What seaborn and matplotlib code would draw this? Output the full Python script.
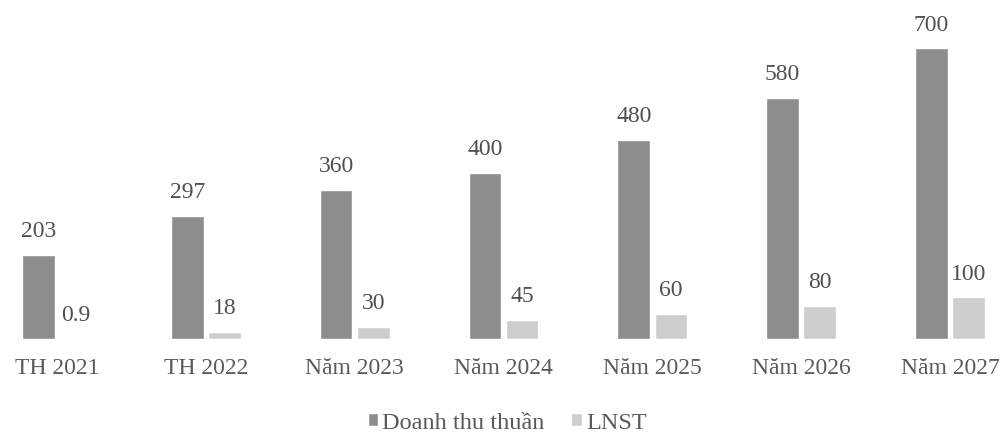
import seaborn as sns
import matplotlib.pyplot as plt
import pandas as pd

# số liệu
years = ['TH 2021', 'TH 2022', 'Năm 2023', 'Năm 2024', 'Năm 2025', 'Năm 2026', 'Năm 2027']
doanh_thu = [203, 297, 360, 400, 480, 580, 700]
lnst = [0.9, 18, 30, 45, 60, 80, 100]
series = ['Doanh thu thuần', 'LNST']

df = pd.DataFrame({
    'Year': years * 2,
    'Series': [series[0]] * len(years) + [series[1]] * len(years),
    'Value': doanh_thu + lnst,
})

sns.set_style('white')
plt.rcParams['font.family'] = ['Liberation Serif', 'DejaVu Serif']

fig = plt.figure(figsize=(10.04, 4.39), dpi=100)
ax = fig.add_axes([0, 0.2255, 1, 0.763])

sns.barplot(data=df, x='Year', y='Value', hue='Series', hue_order=series,
            palette=['#8d8d8d', '#cdcdcd'], width=0.5, gap=0.12,
            saturation=1, ax=ax, legend=True)

ax.set_xlim(-0.383, 6.363)
ax.set_ylim(0, 807)

# nhãn giá trị
fmt = lambda v: f'{v:g}'
for cont, vals in zip(ax.containers, [doanh_thu, lnst]):
    ax.bar_label(cont, labels=[fmt(v) for v in vals], padding=10,
                 fontsize=17, color='#505050')

ax.set_xlabel('')
ax.set_ylabel('')
ax.set_yticks([])
ax.tick_params(axis='x', length=0, pad=13, labelsize=17, labelcolor='#5a5a5a')
for s in ax.spines.values():
    s.set_visible(False)

handles, labels = ax.get_legend_handles_labels()
ax.get_legend().remove()
fig.legend(handles, labels, loc='center', bbox_to_anchor=(0.505, 0.035),
           ncol=2, frameon=False, fontsize=17.5, handlelength=0.45, handleheight=0.45,
           handletextpad=0.15, columnspacing=1.1, labelcolor='#5a5a5a')

fig.savefig('out.png', dpi=100)
